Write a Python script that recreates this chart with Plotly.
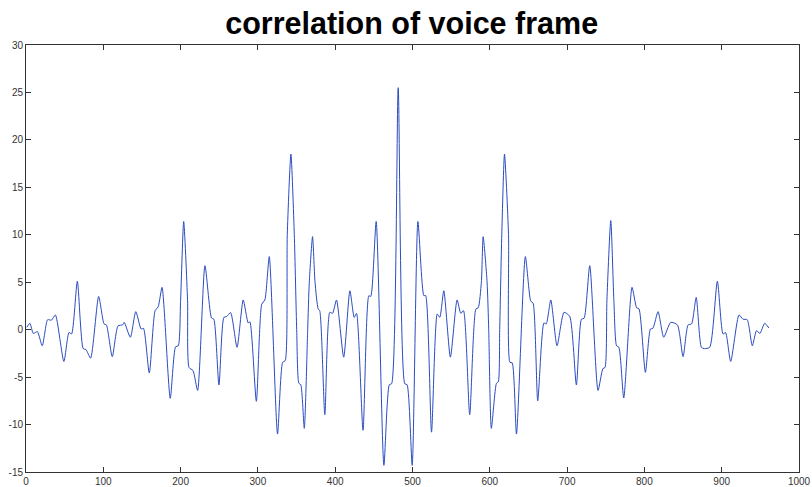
import plotly.graph_objects as go

lag = [1, 5, 9.5, 14.7, 21, 28, 33, 38, 49, 55.6, 59, 66.4, 74, 77.6, 83.6, 94, 101, 104, 111.6, 119, 125, 127,
       135, 142, 149, 152, 159.5, 167, 171, 176, 186.6, 193.5, 197, 200, 204, 209, 211, 216, 222, 231.5, 240, 243,
       249.6, 256, 259.5, 264.7, 273, 281, 287.5, 289.7, 298, 305, 309, 314.7, 325.4, 332, 335.3, 338, 342.7,
       347.1, 350.2, 353, 355.5, 360, 364.4, 366.5, 370.7, 373.9, 378, 380, 386.6, 393, 396.6, 401.7, 411, 419,
       424.6, 427.6, 436, 443.5, 446, 453, 463, 470, 473, 481.5, 490, 493, 499.6, 507, 514.7, 517, 524.6, 532,
       535.3, 540.5, 549, 557.7, 562.5, 566, 574, 582, 585, 589.1, 591.4, 596.5, 598.6, 602, 608.6, 611, 612.8,
       615.5, 619, 624.2, 626, 629, 634.5, 646, 653, 656, 662, 670, 673, 678.9, 687, 696, 703.4, 712, 718.5, 722,
       729.3, 740, 746.3, 749, 751.5, 756.5, 760.5, 764, 767, 773.3, 784, 790, 793, 801.3, 807.8, 811, 817.7,
       825, 834, 842.7, 850, 856.5, 861, 867, 873.7, 877.6, 884.5, 894.4, 901.7, 905, 911.6, 922.4, 927.6, 933,
       939.6, 945, 949.4, 955.6, 961]
corr = [0.25, 0.67, -0.4, -0.2, -1.7, 1.05, 1.0, 1.55, -3.35, -0.3, -0.45, 5.1, -2.0, -2.1, -3.0, 3.5, 0.6, 0.5,
        -2.85, 0.4, 0.5, 0.77, -0.8, 1.9, 0.07, 0.14, -4.57, 2.0, 2.4, 4.46, -7.24, -1.8, -1.7, 3.1, 11.4, 3.1,
        -4.0, -4.3, -6.4, 6.74, 1.23, 1.1, -5.83, 1.3, 1.37, 1.8, -1.86, 3.13, 0.7, 0.84, -7.55, 2.7, 3.13, 7.7,
        -11.0, -3.44, -3.27, 10.0, 18.5, 10.0, 0.0, -5.65, -5.8, -10.4, 0.0, 5.0, 9.8, 5.0, 2.18, 2.0, -8.96,
        1.83, 1.72, 3.13, -2.9, 4.1, 1.3, 1.72, -10.6, 3.58, 3.5, 11.4, -14.3, -5.8, -5.7, 25.5, -5.7, -5.8,
        -14.3, 11.4, 3.58, 3.6, -10.8, 1.65, 1.3, 4.1, -2.9, 3.13, 1.72, 2.0, -8.96, 2.18, 2.3, 5.0, 9.8, 5.0,
        0.0, -10.4, -5.65, -5.5, 0.0, 10.0, 18.5, 10.0, -3.44, -3.5, -11.0, 7.7, 3.0, 2.8, -7.5, 0.7, 0.6, 3.13,
        -1.7, 1.83, 1.4, -5.83, 1.1, 1.2, 6.74, -6.4, -4.1, -4.0, 3.1, 11.5, 3.1, -1.7, -1.85, -7.2, 4.46, 2.3,
        2.2, -4.5, 0.07, 0.14, 1.9, -0.8, 0.77, 0.5, -2.85, 0.5, 0.6, 3.4, -1.86, -2.0, -1.86, 5.1, -0.45, -0.3,
        -3.35, 1.55, 1.1, 1.05, -1.7, -0.1, -0.4, 0.67, 0.18]

title_text = "correlation of voice frame"
x_ticks = list(range(0, 1001, 100))
y_ticks = list(range(-15, 31, 5))

fig = go.Figure()
fig.add_trace(go.Scatter(x=lag, y=corr, mode="lines",
                         line=dict(color="#2a4cc0", width=1, shape="spline", smoothing=0.6),
                         hoverinfo="skip", showlegend=False))

axis_common = dict(showline=True, linecolor="#333333", linewidth=1, mirror="ticks",
                   ticks="inside", ticklen=5, tickcolor="#333333", showgrid=False, zeroline=False,
                   tickfont=dict(family="Liberation Sans, Arial", size=10, color="#333333"))

fig.update_layout(
    width=812, height=487,
    margin=dict(l=26, r=13, t=45, b=15, autoexpand=False),
    paper_bgcolor="white", plot_bgcolor="white",
    title=dict(text="<b>" + title_text + "</b>", x=0.507, xanchor="center", y=0.953, yanchor="middle",
               xref="container", yref="container",
               font=dict(family="Liberation Sans, Arial", size=30.5, color="black")),
    xaxis=dict(range=[0, 1000], tickvals=x_ticks, ticktext=[str(v) for v in x_ticks], ticklabelstandoff=0, **axis_common),
    yaxis=dict(range=[-15, 30], tickvals=y_ticks, ticktext=[str(v) for v in y_ticks], ticklabelstandoff=0, **axis_common),
)

fig.write_html("out.html")
